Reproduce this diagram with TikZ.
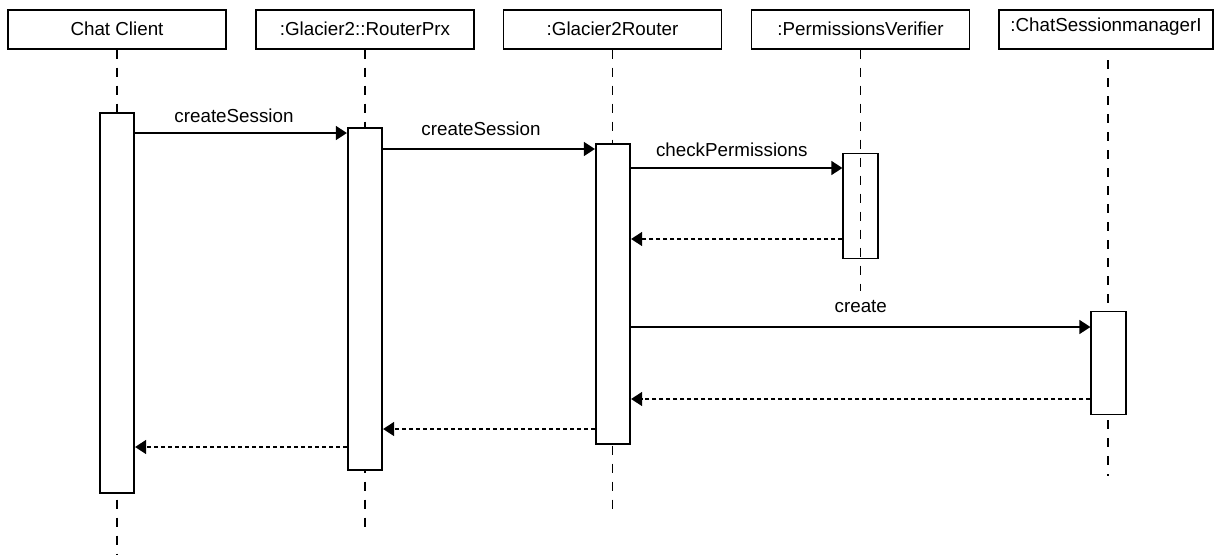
\documentclass[tikz,border=0pt]{standalone}
\usepackage{fontspec}
\setmainfont{Liberation Sans}
\usetikzlibrary{arrows.meta, positioning}

\begin{document}
\begin{tikzpicture}[x=1pt, y=-1pt,
    obj/.style={draw, line width=1.3pt, minimum width=218pt, minimum height=39pt,
        inner sep=0pt, font=\fontsize{18.8}{20}\selectfont, text height=13.5pt, text depth=2pt},
    bar/.style={draw, fill=white, line width=2.2pt, minimum width=34pt, inner sep=0pt, anchor=north},
    thinbar/.style={bar, line width=1.2pt, minimum width=35pt},
    life/.style={line width=1.3pt, dash pattern=on 9pt off 9pt},
    msg/.style={line width=1.3pt, -{Triangle[length=11pt, width=14pt]}},
    reply/.style={msg, dash pattern=on 4pt off 3pt},
    lbl/.style={font=\fontsize{18.8}{20}\selectfont, inner sep=0pt}]
    \useasboundingbox (0,0) rectangle (1214,554);

    % 1. Header boxes of the objects
    \foreach \n/\x/\t in {cc/117/Chat Client, rp/365/:Glacier2::RouterPrx,
        gr/612.5/:Glacier2Router, pv/860.5/:PermissionsVerifier} {
        \node[obj] (\n) at (\x,29.5) {\t};
    }
    \node[obj, minimum width=214pt, text depth=9pt] (cs) at (1106,29.5) {:ChatSessionmanagerI};

    % 2. Lifelines
    \draw[life] (cc.south) -- ++(0,505);
    \draw[life] (rp.south) -- ++(0,483);
    \draw[life] (gr.south) -- ++(0,459);
    \draw[life] (1108,60) -- (1108,476);

    % 3. Activation bars
    \node[bar, minimum height=380pt] (ccbar) at (117,112) {};
    \node[bar, minimum height=342pt] (rpbar) at (365,127) {};
    \node[bar, minimum height=300pt] (grbar) at (613,143) {};
    \node[thinbar, minimum height=103pt] (csbar) at (1108.5,311) {};
    \node[thinbar, fill=none, minimum height=105pt] (pvbar) at (860.5,153) {};
    \draw[life] (pv.south) -- ++(0,241);

    % 4. Message levels
    \coordinate (m1) at (0,133);
    \coordinate (m2) at (0,149);
    \coordinate (m3) at (0,168);
    \coordinate (r3) at (0,239);
    \coordinate (m4) at (0,327);
    \coordinate (r4) at (0,399);
    \coordinate (r2) at (0,429);
    \coordinate (r1) at (0,447);

    % 5. Calls
    \draw[msg] (ccbar.east |- m1) -- node[lbl, above=10pt, xshift=-7pt] {createSession} (rpbar.west |- m1);
    \draw[msg] (rpbar.east |- m2) -- node[lbl, above=13pt, xshift=-8pt] {createSession} (grbar.west |- m2);
    \draw[msg] (grbar.east |- m3) -- node[lbl, above=11pt, xshift=-5pt] {checkPermissions} (pvbar.west |- m3);
    \draw[msg] (grbar.east |- m4) -- node[lbl, above=14pt] {create} (csbar.west |- m4);

    % 6. Replies
    \draw[reply] (pvbar.west |- r3) -- (grbar.east |- r3);
    \draw[reply] (csbar.west |- r4) -- (grbar.east |- r4);
    \draw[reply] (grbar.west |- r2) -- (rpbar.east |- r2);
    \draw[reply] (rpbar.west |- r1) -- (ccbar.east |- r1);
\end{tikzpicture}
\end{document}
